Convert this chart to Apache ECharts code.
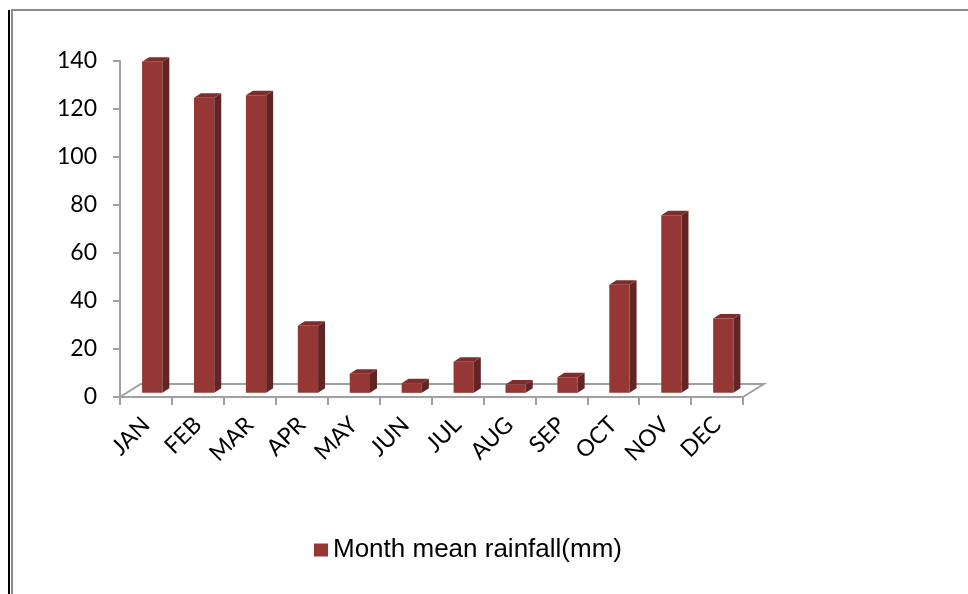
<!DOCTYPE html>
<html>
<head>
<meta charset="utf-8">
<script src="https://cdn.jsdelivr.net/npm/echarts@6/dist/echarts.min.js"></script>
<style>
  html, body { margin: 0; padding: 0; background: #fff; }
  #chart { width: 968px; height: 594px; }
</style>
</head>
<body>
<div id="chart"></div>
<script>
const months = ['JAN', 'FEB', 'MAR', 'APR', 'MAY', 'JUN', 'JUL', 'AUG', 'SEP', 'OCT', 'NOV', 'DEC'];
const rainfall = [138, 123, 124, 28, 8, 4, 13, 3.5, 6.5, 45, 74, 31];
const seriesName = 'Month mean rainfall(mm)';

const faceColor = '#953735';
const sideColor = '#632523';
const topColor = '#7e2d2b';
const floorColor = '#a0a0a0';

// 3D column: front face, right side, top
function renderBar(params, api) {
  const i = api.value(0), v = api.value(1);
  const base = api.coord([i, 0]);
  const top = api.coord([i, v]);
  const band = api.size([1, 0])[0];
  const w = band * 0.39;
  const sx = band * 0.12, sy = -band * 0.08;
  const dx = band * 0.135, dy = -band * 0.087;
  const x0 = base[0] - w / 2 + sx, x1 = x0 + w;
  const yb = base[1] + sy, yt = top[1] + sy;
  return {
    type: 'group',
    children: [
      { type: 'polygon', shape: { points: [[x1, yb], [x1 + dx, yb + dy], [x1 + dx, yt + dy], [x1, yt]] },
        style: { fill: sideColor } },
      { type: 'polygon', shape: { points: [[x0, yt], [x0 + dx, yt + dy], [x1 + dx, yt + dy], [x1, yt]] },
        style: { fill: topColor } },
      { type: 'rect', shape: { x: x0, y: yt, width: w, height: yb - yt },
        style: { fill: faceColor } }
    ]
  };
}

// floor of the 3D plot area
function renderFloor(params, api) {
  const c = params.coordSys;
  const band = api.size([1, 0])[0];
  const dx = band * 0.4, dy = -band * 0.25;
  const yb = c.y + c.height;
  return {
    type: 'polyline',
    shape: { points: [[c.x, yb], [c.x + dx, yb + dy], [c.x + c.width + dx, yb + dy], [c.x + c.width, yb]] },
    style: { stroke: floorColor, lineWidth: 2, fill: null }
  };
}

const myChart = echarts.init(document.getElementById('chart'));
const option = {
  animation: false,
  grid: { left: 120, right: 225, top: 61, bottom: 197 },
  legend: {
    data: [seriesName],
    left: 309, top: 532,
    icon: 'rect', itemWidth: 14, itemHeight: 13, itemGap: 6,
    textStyle: { fontFamily: 'Liberation Sans', fontSize: 26, color: '#000' }
  },
  xAxis: {
    type: 'category',
    data: months,
    axisLine: { lineStyle: { color: floorColor, width: 2 } },
    axisTick: { show: true, length: 8, lineStyle: { color: floorColor, width: 2 } },
    axisLabel: { rotate: 45, margin: 24, fontFamily: 'Lato', fontSize: 23, color: '#000' }
  },
  yAxis: {
    type: 'value',
    min: 0, max: 140, interval: 20,
    splitLine: { show: false },
    axisLine: { show: true, lineStyle: { color: floorColor, width: 2 } },
    axisTick: { show: true, length: 7, lineStyle: { color: floorColor, width: 2 } },
    axisLabel: { margin: 23, fontFamily: 'Lato', fontSize: 23, color: '#000' }
  },
  graphic: [
    { type: 'rect', shape: { x: 8, y: 10, width: 2, height: 584 }, style: { fill: '#000' } },
    { type: 'rect', shape: { x: 11, y: 9, width: 2, height: 585 }, style: { fill: '#8c8c8c' } },
    { type: 'rect', shape: { x: 11, y: 9, width: 957, height: 2 }, style: { fill: '#8c8c8c' } }
  ],
  series: [
    {
      name: 'floor',
      type: 'custom',
      renderItem: renderFloor,
      data: [[0]],
      z: 1,
      silent: true
    },
    {
      name: seriesName,
      type: 'custom',
      renderItem: renderBar,
      itemStyle: { color: faceColor },
      encode: { x: 0, y: 1 },
      data: rainfall.map((v, i) => [i, v]),
      z: 2
    }
  ]
};
myChart.setOption(option);
</script>
</body>
</html>
